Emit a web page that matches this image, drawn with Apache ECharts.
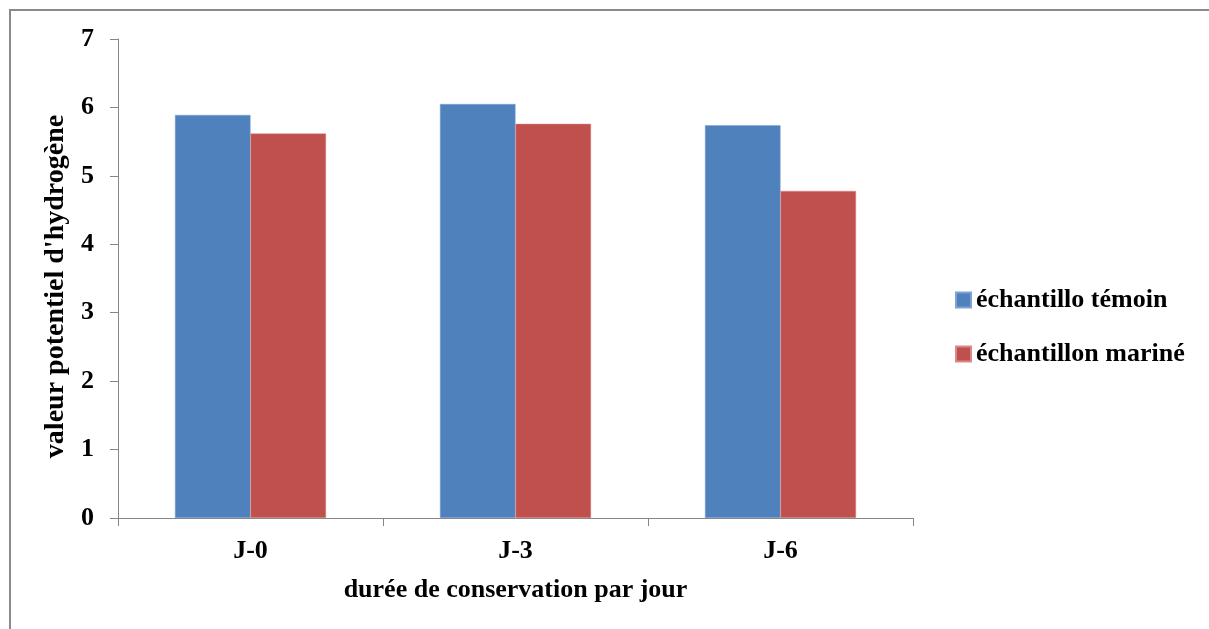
<!DOCTYPE html>
<html><head><meta charset="utf-8">
<script src="https://cdn.jsdelivr.net/npm/echarts@6/dist/echarts.min.js"></script>
<style>html,body{margin:0;padding:0;background:#fff}#c{width:1209px;height:629px}</style>
</head><body><div id="c"></div>
<script>
const categories = ['J-0', 'J-3', 'J-6'];
const temoin = [5.89, 6.05, 5.74];
const marine = [5.62, 5.76, 4.78];
const seriesNames = ['échantillo témoin', 'échantillon mariné'];
const yTicks = [0, 1, 2, 3, 4, 5, 6, 7];

const font = 'Liberation Serif';
const chart = echarts.init(document.getElementById('c'), null, {renderer: 'canvas'});
chart.setOption({
  backgroundColor: '#fff',
  animation: false,
  graphic: [{
    type: 'rect', shape: {x: 10, y: 10, width: 1220, height: 640},
    style: {fill: 'none', stroke: '#8a8a8a', lineWidth: 2}, silent: true, z: -1
  }],
  grid: {left: 118, top: 39, right: 296, bottom: 111, containLabel: false},
  legend: {
    orient: 'vertical', left: 950, top: 282, itemWidth: 15, itemHeight: 15, itemGap: 28,
    icon: 'rect',
    textStyle: {fontFamily: font, fontWeight: 'bold', fontSize: 26, color: '#000'},
    data: seriesNames
  },
  xAxis: {
    type: 'category', data: categories,
    name: 'durée de conservation par jour', nameLocation: 'middle', nameGap: 59,
    nameTextStyle: {fontFamily: font, fontWeight: 'bold', fontSize: 26, color: '#000'},
    axisLine: {lineStyle: {color: '#868686', width: 1}},
    axisTick: {show: true, length: 8, alignWithLabel: false, lineStyle: {color: '#868686'}},
    axisLabel: {fontFamily: font, fontWeight: 'bold', fontSize: 26, color: '#000', margin: 20}
  },
  yAxis: {
    type: 'value', min: 0, max: 7, interval: 1,
    name: "valeur potentiel d'hydrogène", nameLocation: 'middle', nameGap: 44,
    nameTextStyle: {fontFamily: font, fontWeight: 'bold', fontSize: 28, color: '#000', padding: [0, 16, 0, 0]},
    axisLine: {show: true, lineStyle: {color: '#868686', width: 1}},
    axisTick: {show: true, length: 8, lineStyle: {color: '#868686'}},
    splitLine: {show: false},
    axisLabel: {fontFamily: font, fontWeight: 'bold', fontSize: 26, color: '#000', margin: 24,
      formatter: v => yTicks.includes(v) ? String(v) : ''}
  },
  series: [
    {name: seriesNames[0], type: 'bar', data: temoin, barWidth: '28.5%', barGap: '0%',
     itemStyle: {color: '#4F81BD', borderColor: '#7fa3d0', borderWidth: 0.5}},
    {name: seriesNames[1], type: 'bar', data: marine, barWidth: '28.5%', barGap: '0%',
     itemStyle: {color: '#C0504D', borderColor: '#d98a88', borderWidth: 0.5}}
  ]
});
</script></body></html>
